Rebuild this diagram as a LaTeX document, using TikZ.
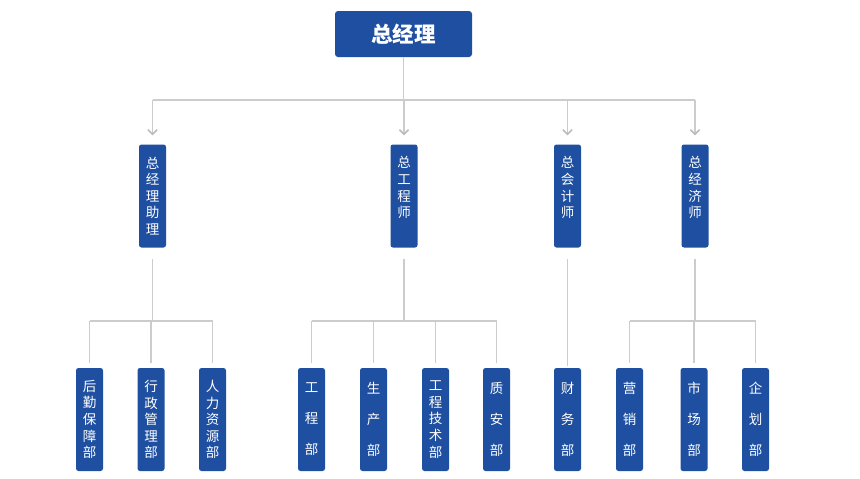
\documentclass[tikz,border=0pt]{standalone}
\usepackage{fontspec}
\setmainfont{Noto Sans CJK SC}
\usetikzlibrary{arrows.meta}
\definecolor{boxblue}{HTML}{1F4FA0}
\definecolor{linegray}{HTML}{CCCCCC}
\definecolor{arrowgray}{HTML}{BBBBBB}
\tikzset{
  topbox/.style={fill=boxblue, draw=none, rounded corners=3pt, minimum width=137pt, minimum height=46pt,
    text=white, font=\fontsize{21.5}{24}\selectfont\bfseries, inner sep=0pt},
  vbox/.style={fill=boxblue, draw=none, rounded corners=2.5pt, minimum width=27pt, minimum height=103pt,
    text=white, align=center, inner sep=0pt, text width=27pt},
  tight/.style={vbox, font=\fontsize{13.5}{16.6}\selectfont},
  loose/.style={vbox, font=\fontsize{13.5}{31}\selectfont},
  conn/.style={draw=linegray, line width=1.3pt},
  arr/.style={draw=linegray, line width=1.3pt, -{Straight Barb[length=4.5pt,width=9pt,line width=1.6pt,color=arrowgray]}},
}
\begin{document}
\begin{tikzpicture}[x=1pt,y=-1pt]
\useasboundingbox (0,0) rectangle (860,479);
% top
\node[topbox] (top) at (403.5,34) {总经理};
% second level
\node[tight] (a1) at (152.5,196) {总\\经\\理\\助\\理};
\node[tight] (a2) at (404,196) {总\\工\\程\\师\\\phantom{总}};
\node[tight] (a3) at (567.5,196) {总\\会\\计\\师\\\phantom{总}};
\node[tight] (a4) at (695,196) {总\\经\\济\\师\\\phantom{总}};
% third level
\node[tight] (b1) at (89.5,419.5) {后\\勤\\保\\障\\部};
\node[tight] (b2) at (151,419.5) {行\\政\\管\\理\\部};
\node[tight] (b3) at (212.5,419.5) {人\\力\\资\\源\\部};
\node[loose] (c1) at (311.5,419.5) {工\\程\\部};
\node[loose] (c2) at (373.5,419.5) {生\\产\\部};
\node[tight] (c3) at (435.5,419.5) {工\\程\\技\\术\\部};
\node[loose] (c4) at (496.5,419.5) {质\\安\\部};
\node[loose] (d1) at (567.5,419.5) {财\\务\\部};
\node[loose] (e1) at (629.5,419.5) {营\\销\\部};
\node[loose] (e2) at (694,419.5) {市\\场\\部};
\node[loose] (e3) at (755.5,419.5) {企\\划\\部};
% level 1 -> 2
\coordinate (h) at (0,100);
\draw[conn] (top.south) -- (top.south |- h);
\draw[conn] (a1.north |- h) -- (a4.north |- h);
\foreach \n in {a1,a2,a3,a4}
  \draw[arr, shorten >=9pt] (\n.north |- h) -- (\n.north);
% level 2 -> 3
\coordinate (m) at (0,321);
\foreach \p/\first/\last in {a1/b1/b3, a2/c1/c4, a4/e1/e3}{
  \draw[conn] ([yshift=-11pt]\p.south) -- (\p.south |- m);
  \draw[conn] (\first.north |- m) -- (\last.north |- m);
}
\foreach \c in {b1,b2,b3,c1,c2,c3,c4,e1,e2,e3}
  \draw[conn, shorten >=5pt] (\c.north |- m) -- (\c.north);
\draw[conn, shorten >=2pt] ([yshift=-11pt]a3.south) -- (d1.north);
\end{tikzpicture}
\end{document}
